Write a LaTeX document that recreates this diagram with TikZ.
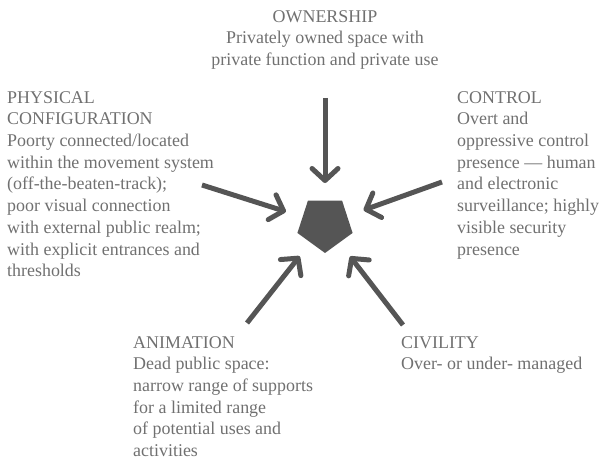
\documentclass[tikz,border=0pt]{standalone}
\usepackage{fontspec}
\setmainfont{Liberation Serif}
\usetikzlibrary{arrows.meta,shapes.geometric}
\definecolor{txtgray}{HTML}{707070}
\definecolor{arrgray}{HTML}{555555}

\begin{document}
\begin{tikzpicture}[x=1bp,y=-1bp,
	label/.style={inner sep=0pt, text=txtgray, font=\fontsize{18}{21.8}\selectfont},
	push/.style={draw=arrgray, line width=5bp, shorten >=41bp,
		-{Straight Barb[length=12bp,width=26bp,round]}}]
		\useasboundingbox (0,0) rectangle (606,464);
		\node (core) [regular polygon, regular polygon sides=5, shape border rotate=180,
			minimum size=58bp, inner sep=0pt, fill=arrgray] at (325,224) {};
		% the five labels
		\node (own) [label, anchor=north, align=center] at (325,10)
		{OWNERSHIP\\Privately owned space with\\private function and private use};
		\node (phys) [label, anchor=north west, align=left] at (7,91)
		{PHYSICAL\\CONFIGURATION\\Poorty connected/located\\within the movement system\\(off-the-beaten-track);\\poor visual connection\\with external public realm;\\with explicit entrances and\\thresholds};
		\node (ctrl) [label, anchor=north west, align=left] at (457,91)
		{CONTROL\\Overt and\\oppressive control\\presence --- human\\and electronic\\surveillance; highly\\visible security\\presence};
		\node (anim) [label, anchor=north west, align=left] at (133,336)
		{ANIMATION\\Dead public space:\\narrow range of supports\\for a limited range\\of potential uses and\\activities};
		\node (civ) [label, anchor=north west, align=left] at (401,336)
		{CIVILITY\\Over- or under- managed};
		% arrows
		\coordinate (own-end) at (325,98);
		\coordinate (phys-end) at (202,185);
		\coordinate (ctrl-end) at (442,182);
		\coordinate (anim-end) at (247,323);
		\coordinate (civ-end) at (403,325);
		\draw [push] (own-end) -- (core.center);
		\draw [push] (phys-end) -- (core.center);
		\draw [push] (ctrl-end) -- (core.center);
		\draw [push] (anim-end) -- (core.center);
		\draw [push] (civ-end) -- (core.center);
		\end{tikzpicture}
\end{document}
